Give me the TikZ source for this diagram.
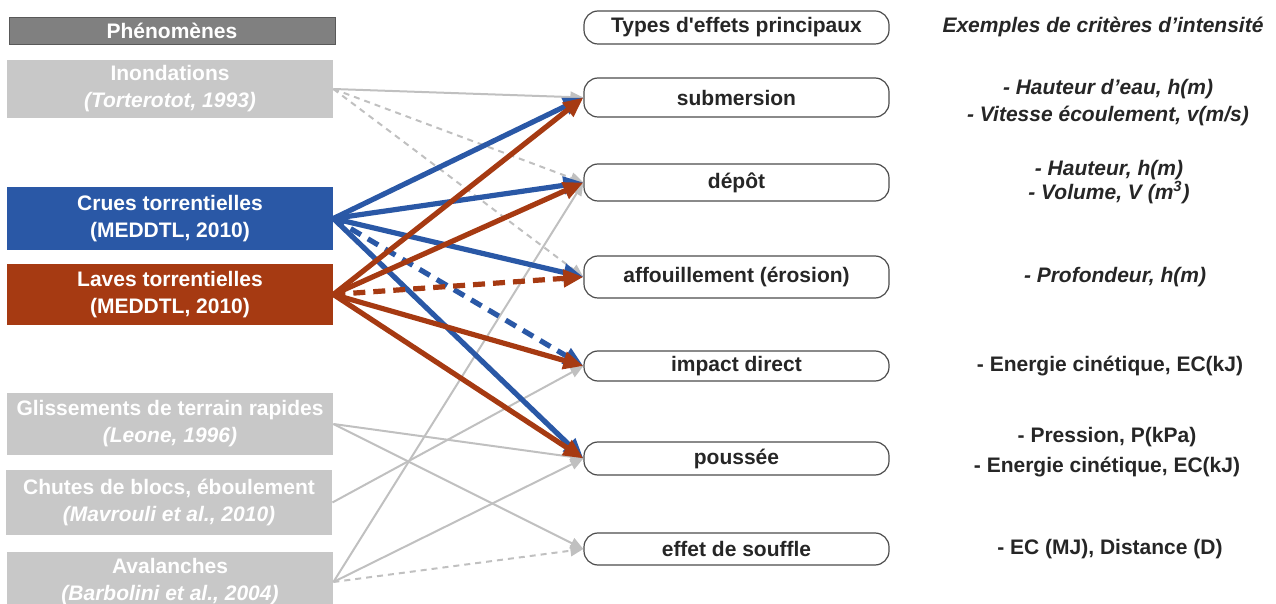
\documentclass[tikz,border=0pt]{standalone}
\usepackage{fontspec}
\setmainfont{Liberation Sans}
\usetikzlibrary{arrows.meta}
\definecolor{crueblue}{RGB}{42,88,166}
\definecolor{laverust}{RGB}{166,58,18}
\definecolor{phengray}{RGB}{200,200,200}
\definecolor{headgray}{RGB}{128,128,128}
\definecolor{edgegray}{RGB}{192,192,192}
\tikzset{
    header/.style = {
        fill = headgray,
        draw = black!65,
        text = white,
        minimum width = 163pt,
        minimum height = 13.5pt,
        inner sep = 0pt,
        font = \fontsize{10.5}{13.5}\selectfont\bfseries,
        },
    phen/.style = {
        fill = phengray,
        text = white,
        minimum width = 163pt,
        inner sep = 0pt,
        align = center,
        font = \fontsize{10.5}{13.5}\selectfont\bfseries,
        },
    effet/.style = {
        draw = black!70,
        line width = 0.6pt,
        rounded corners = 7pt,
        text = black!85,
        minimum width = 152.5pt,
        inner sep = 0pt,
        font = \fontsize{10.5}{13.5}\selectfont\bfseries,
        },
    critere/.style = {
        text = black!85,
        align = center,
        inner sep = 0pt,
        font = \fontsize{10.5}{13.5}\selectfont\bfseries,
        },
    critere it/.style = {
        critere,
        font = \fontsize{10.5}{13.5}\selectfont\bfseries\itshape,
        },
    gray edge/.style = {
        draw = edgegray,
        line width = 1pt,
        -{Triangle[length=6.5pt,width=5.5pt]},
        },
    gray dash/.style = {
        gray edge,
        dash pattern = on 3pt off 2.5pt,
        },
    crue edge/.style = {
        draw = crueblue,
        line width = 2.6pt,
        -{Triangle[length=10pt,width=8.5pt]},
        },
    lave edge/.style = {
        crue edge,
        draw = laverust,
        },
    thick dash/.style = {
        dash pattern = on 6pt off 4pt,
        },
}
\begin{document}
\begin{tikzpicture}[->, x=0.5pt, y=-0.5pt]
    \useasboundingbox (0,0) rectangle (1276,604);

    % phenomenes
    \node[header] (phenom) at (172,30.5) {Phénomènes};
    \node[phen, minimum height=29pt] (inond) at (170,89) {Inondations\\\textit{(Torterotot, 1993)}};
    \node[phen, fill=crueblue, minimum height=31.5pt] (crues) at (170,218.5) {Crues torrentielles\\(MEDDTL, 2010)};
    \node[phen, fill=laverust, minimum height=30.5pt] (laves) at (170,294.5) {Laves torrentielles\\(MEDDTL, 2010)};
    \node[phen, minimum height=31pt] (gliss) at (170,424) {Glissements de terrain rapides\\\textit{(Leone, 1996)}};
    \node[phen, minimum height=32.5pt] (chutes) at (169,502.5) {Chutes de blocs, éboulement\\\textit{(Mavrouli et al., 2010)}};
    \node[phen, minimum height=30pt] (aval) at (170,582) {Avalanches\\\textit{(Barbolini et al., 2004)}};

    % types d'effets
    \node[effet, minimum height=16.5pt] (types) at (736.5,27.5) {Types d\textquotesingle effets principaux};
    \node[effet, minimum height=19.5pt] (subm) at (736.5,97.5) {submersion};
    \node[effet, minimum height=18.5pt] (depot) at (736.5,182.5) {dépôt};
    \node[effet, minimum height=21pt] (affou) at (736.5,277) {affouillement (érosion)};
    \node[effet, minimum height=15pt] (impact) at (736.5,366) {impact direct};
    \node[effet, minimum height=16.5pt] (pouss) at (736.5,458.5) {poussée};
    \node[effet, minimum height=16pt] (souffle) at (736.5,549) {effet de souffle};

    % criteres
    \node[critere it] (crit) at (1103,27) {Exemples de critères d’intensité};
    \node[critere it] (c-subm) at (1108,102.5) {- Hauteur d’eau, h(m)\\- Vitesse écoulement, v(m/s)};
    \node[critere it, font=\fontsize{10.5}{12}\selectfont\bfseries\itshape] (c-depot) at (1109,182) {- Hauteur, h(m)\\- Volume, V (m\textsuperscript{3})};
    \node[critere it] (c-affou) at (1115,277) {- Profondeur, h(m)};
    \node[critere] (c-impact) at (1110,366) {- Energie cinétique, EC(kJ)};
    \node[critere, font=\fontsize{10.5}{15}\selectfont\bfseries] (c-pouss) at (1107,452) {- Pression, P(kPa)\\- Energie cinétique, EC(kJ)};
    \node[critere] (c-souffle) at (1110,549) {- EC (MJ), Distance (D)};

    % gray links
    \path (inond.east) edge[gray edge] (subm.west);
    \path (inond.east) edge[gray dash] (depot.west);
    \path (inond.east) edge[gray dash] (affou.west);
    \path (chutes.east) edge[gray edge] (impact.west);
    \path (gliss.east) edge[gray edge] (pouss.west);
    \path (gliss.east) edge[gray edge] (souffle.west);
    \path (aval.east) edge[gray edge] (depot.west);
    \path (aval.east) edge[gray edge] (pouss.west);
    \path (aval.east) edge[gray dash] (souffle.west);

    % crues torrentielles
    \path (crues.east) edge[crue edge] (subm.west);
    \path (crues.east) edge[crue edge] (depot.west);
    \path (crues.east) edge[crue edge] (affou.west);
    \path (crues.east) edge[crue edge, thick dash] (impact.west);
    \path (crues.east) edge[crue edge] (pouss.west);

    % laves torrentielles
    \path (laves.east) edge[lave edge] (subm.west);
    \path (laves.east) edge[lave edge] (depot.west);
    \path (laves.east) edge[lave edge, thick dash] (affou.west);
    \path (laves.east) edge[lave edge] (impact.west);
    \path (laves.east) edge[lave edge] (pouss.west);
\end{tikzpicture}
\end{document}
